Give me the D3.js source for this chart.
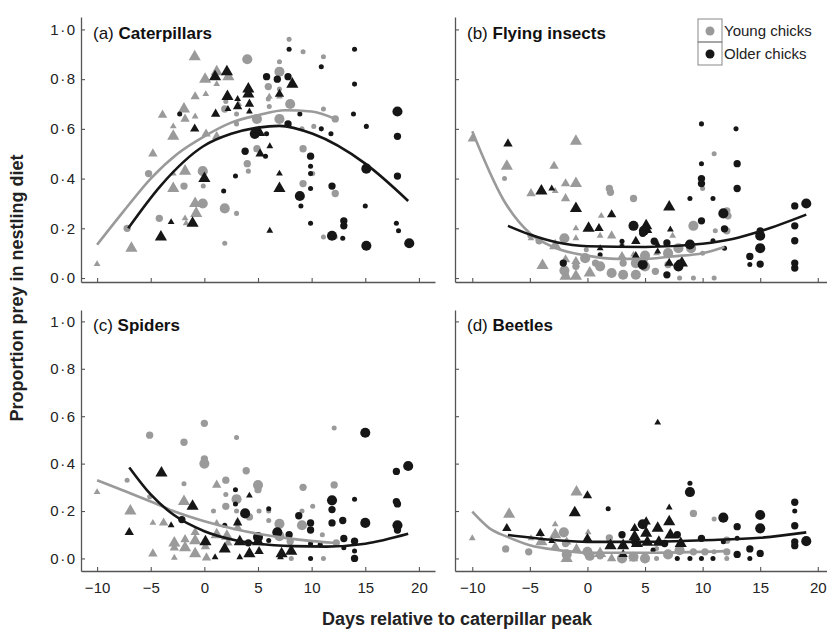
<!DOCTYPE html>
<html>
<head>
<meta charset="utf-8">
<script src="https://cdnjs.cloudflare.com/ajax/libs/d3/7.8.5/d3.min.js"></script>
<style>
body { margin: 0; background: #fff; }
text { font-family: "Liberation Sans", Arial, Helvetica, sans-serif; }
</style>
</head>
<body>
<div id="chart"></div>
<script>
// points: [day, proportion, shape+size]  (c = circle, t = triangle, 1..3 = size)
var catYoung = [
  [-10,0.056,"t1"],[-6.8,0.12,"t3"],[-4.8,0.50,"t2"],[-3.9,0.656,"t2"],[-2.9,0.61,"t1"],[-2.9,0.57,"t3"],
  [-2.9,0.42,"t1"],[-2.9,0.36,"t3"],[-1.9,0.68,"t3"],[-1.8,0.64,"t2"],[-1.8,0.43,"t3"],[-1.8,0.24,"t1"],
  [-1.7,0.22,"t1"],[-0.9,0.89,"t3"],[-0.86,0.73,"t2"],[-0.86,0.65,"t1"],[-0.86,0.30,"t3"],[-0.76,0.26,"t3"],
  [0.07,0.80,"t3"],[0.13,0.74,"t1"],[0.16,0.58,"t2"],[1.15,0.83,"t3"],[1.15,0.78,"t1"],[1.15,0.57,"t2"],
  [2.24,0.81,"t3"],[3.2,0.70,"t1"],[6.05,0.73,"t1"],[7.0,0.73,"t1"],
  [-7.2,0.20,"c2"],[-5.2,0.42,"c2"],[-4.2,0.24,"c2"],[-1.9,0.37,"c2"],[-0.15,0.43,"c3"],[-0.1,0.37,"c1"],
  [-0.15,0.30,"c3"],[1.9,0.28,"c3"],[1.9,0.14,"c1"],[3.0,0.26,"c1"],[1.9,0.68,"c2"],[2.0,0.71,"c1"],
  [3.0,0.66,"c1"],[3.0,0.62,"c1"],[4.0,0.88,"c3"],[4.0,0.46,"c2"],[4.1,0.43,"c1"],[4.9,0.64,"c3"],
  [4.9,0.52,"c2"],[5.96,0.77,"c2"],[5.96,0.72,"c1"],[6.05,0.69,"c1"],[7.0,0.83,"c3"],[7.0,0.87,"c1"],
  [7.0,0.76,"c1"],[7.0,0.64,"c3"],[7.9,0.96,"c1"],[8.0,0.70,"c3"],[9.2,0.91,"c1"],[9.1,0.60,"c1"],
  [9.2,0.52,"c2"],[9.2,0.38,"c2"],[10.1,0.42,"c1"],[10.2,0.61,"c1"],[11.1,0.89,"c1"],[11.1,0.68,"c1"],
  [11.1,0.165,"c1"],[12.2,0.34,"c2"],[12.2,0.165,"c1"],[12.2,0.64,"c2"]
];
var catOld = [
  [-2.3,0.66,"c1"],[1.8,0.35,"c1"],[2.9,0.41,"c1"],[3.8,0.51,"c2"],[4.7,0.58,"c3"],[5.8,0.81,"c2"],
  [5.8,0.58,"c1"],[5.7,0.49,"c1"],[6.8,0.80,"c2"],[7.9,0.92,"c1"],[7.8,0.81,"c2"],[7.8,0.62,"c2"],
  [8.9,0.66,"c1"],[8.9,0.33,"c3"],[9.0,0.29,"c1"],[9.9,0.49,"c2"],[9.9,0.45,"c1"],[9.9,0.42,"c1"],
  [9.9,0.36,"c1"],[9.9,0.22,"c1"],[10.9,0.85,"c1"],[10.9,0.60,"c1"],[11.8,0.58,"c1"],[11.9,0.37,"c2"],
  [11.9,0.17,"c3"],[12.9,0.16,"c1"],[13.0,0.23,"c2"],[13.0,0.21,"c2"],[14.0,0.92,"c1"],[14.0,0.78,"c1"],
  [13.9,0.66,"c1"],[15.1,0.61,"c1"],[15.1,0.44,"c3"],[15.0,0.29,"c1"],[15.1,0.13,"c3"],[18.0,0.67,"c3"],
  [18.0,0.57,"c2"],[18.0,0.41,"c2"],[17.9,0.22,"c1"],[18.1,0.19,"c1"],[19.1,0.14,"c3"],
  [-4.05,0.165,"t3"],[-3.1,0.225,"t1"],[-1.1,0.22,"t3"],[-0.9,0.60,"t2"],[0.0,0.40,"t3"],[1.0,0.81,"t3"],
  [2.1,0.83,"t3"],[1.05,0.66,"t2"],[2.15,0.73,"t3"],[2.2,0.68,"t1"],[3.1,0.72,"t1"],[3.1,0.69,"t2"],
  [4.1,0.76,"t3"],[4.1,0.74,"t3"],[4.2,0.70,"t2"],[4.2,0.67,"t1"],[5.1,0.585,"t3"],[5.2,0.50,"t2"],
  [6.1,0.53,"t1"],[6.1,0.19,"t1"],[7.0,0.42,"t1"],[7.0,0.36,"t3"],[7.0,0.74,"t2"],[8.2,0.78,"t3"]
];
var flyYoung = [
  [-10,0.56,"t2"],[-7.0,0.45,"t3"],[-4.9,0.34,"t2"],[-2.9,0.45,"t2"],[-2.8,0.35,"t1"],[-1.9,0.38,"t2"],
  [-1.9,0.32,"t2"],[-1.0,0.55,"t3"],[-1.0,0.38,"t3"],[-1.0,0.20,"t1"],[-1.0,0.16,"t1"],[-1.0,0.067,"t2"],
  [-1.0,0.007,"t3"],[-1.9,0.007,"t3"],[-1.9,0.074,"t2"],[-2.8,0.13,"t3"],[-3.9,0.05,"t3"],[-4.9,0.16,"t1"],
  [1.2,0.25,"t1"],[1.1,0.17,"t1"],[0.2,0.02,"t3"],[2.1,0.17,"t2"],[3.0,0.087,"t2"],[4.0,0.094,"t1"],
  [5.0,0.074,"t1"],[6.0,0.10,"t1"],[7.4,0.17,"t1"],
  [-7.2,0.40,"c1"],[-5.0,0.17,"c1"],[-4.2,0.15,"c2"],[-2.0,0.16,"c3"],[-2.0,0.03,"c3"],[-1.9,0.01,"c2"],
  [-1.0,0.047,"c2"],[-0.2,0.08,"c3"],[-0.1,0.114,"c1"],[0.7,0.06,"c2"],[1.1,0.047,"c3"],[1.9,0.36,"c2"],
  [2.0,0.345,"c2"],[2.1,0.02,"c3"],[3.0,0.134,"c1"],[3.1,0.06,"c2"],[3.1,0.013,"c3"],[4.0,0.32,"c2"],
  [4.2,0.06,"c3"],[4.2,0.013,"c3"],[5.0,0.09,"c3"],[5.0,0.047,"c3"],[5.9,0.027,"c2"],[6.0,0.144,"c1"],
  [7.0,0.10,"c3"],[7.0,0.054,"c2"],[7.9,0.12,"c3"],[8.0,0.0,"c1"],[9.0,0.12,"c3"],[9.2,0.0,"c1"],
  [9.2,0.21,"c3"],[10.0,0.36,"c1"],[10.0,0.10,"c1"],[11.0,0.0,"c1"],[11.0,0.50,"c1"],[11.1,0.19,"c1"],
  [12.1,0.27,"c2"],[12.2,0.25,"c2"],[12.1,0.19,"c2"]
];
var flyOld = [
  [-6.9,0.54,"t2"],[-4.0,0.35,"t3"],[-3.1,0.36,"t1"],[-1.0,0.28,"t3"],[0.1,0.20,"t3"],[1.0,0.20,"t2"],
  [2.1,0.255,"t2"],[1.1,0.12,"t1"],[3.0,0.13,"t1"],[4.2,0.148,"t2"],[4.2,0.087,"t2"],[5.1,0.21,"t3"],
  [5.1,0.195,"t3"],[6.1,0.134,"t1"],[6.1,0.107,"t1"],[7.1,0.286,"t3"],[7.2,0.195,"t1"],[7.1,0.06,"t2"],
  [8.2,0.06,"t3"],
  [-2.1,0.06,"c2"],[1.1,0.094,"c1"],[3.0,0.148,"c1"],[4.0,0.21,"c3"],[4.9,0.19,"c3"],[4.8,0.18,"c2"],
  [4.8,0.054,"c3"],[5.8,0.148,"c2"],[6.9,0.141,"c2"],[6.9,0.013,"c2"],[7.9,0.047,"c3"],[8.0,0.06,"c2"],
  [8.9,0.32,"c1"],[8.9,0.135,"c3"],[9.9,0.62,"c1"],[9.9,0.46,"c1"],[9.9,0.40,"c2"],[9.9,0.38,"c2"],
  [9.9,0.23,"c2"],[10.9,0.32,"c1"],[10.9,0.15,"c1"],[11.8,0.26,"c3"],[11.9,0.198,"c2"],[11.9,0.12,"c1"],
  [12.9,0.60,"c1"],[13.0,0.46,"c2"],[13.0,0.36,"c2"],[14.1,0.087,"c2"],[14.1,0.054,"c1"],[15.0,0.19,"c2"],
  [15.0,0.17,"c3"],[15.0,0.12,"c3"],[15.0,0.056,"c2"],[18.0,0.29,"c2"],[18.0,0.21,"c2"],[18.0,0.15,"c2"],
  [18.0,0.06,"c2"],[18.0,0.04,"c2"],[19.0,0.30,"c3"]
];
var spiYoung = [
  [-7.2,0.33,"c1"],[-5.1,0.52,"c2"],[-5.1,0.26,"c1"],[-1.9,0.49,"c2"],[-1.9,0.315,"c1"],[0,0.57,"c2"],
  [0,0.42,"c2"],[0,0.40,"c3"],[0.85,0.20,"c1"],[2.0,0.33,"c2"],[2.0,0.27,"c1"],[2.0,0.22,"c2"],
  [3.0,0.51,"c1"],[3.0,0.25,"c3"],[3.0,0.20,"c1"],[3.9,0.37,"c2"],[4.2,0.175,"c2"],[5.0,0.31,"c3"],
  [5.0,0.29,"c2"],[5.1,0.20,"c1"],[6.0,0.20,"c1"],[6.0,0.16,"c1"],[7.0,0.146,"c3"],[7.0,0.094,"c3"],
  [8.0,0.073,"c2"],[8.1,0.0,"c1"],[9.2,0.30,"c2"],[9.1,0.14,"c3"],[9.1,0.20,"c1"],[10.1,0.22,"c1"],
  [11.0,0.10,"c1"],[11.1,0.0,"c1"],[12.1,0.55,"c1"],[12.1,0.31,"c2"],[12.3,0.066,"c2"],
  [-10,0.28,"t1"],[-6.9,0.20,"t3"],[-4.8,0.15,"t1"],[-4.8,0.02,"t2"],[-3.8,0.15,"t2"],[-2.8,0.065,"t3"],
  [-2.8,0.045,"t2"],[-2.8,0.003,"t1"],[-1.9,0.24,"t3"],[-1.8,0.08,"t2"],[-1.8,0.045,"t3"],[-0.86,0.11,"t2"],
  [-0.86,0.075,"t3"],[-0.86,0.02,"t3"],[0.1,0.05,"t2"],[0.2,0.003,"t2"],[1.15,0.31,"t2"],[1.15,0.15,"t1"],
  [1.15,0.10,"t3"],[2.1,0.094,"t3"],[2.2,0.066,"t2"],[3.1,0.16,"t1"],[3.1,0.13,"t2"]
];
var spiOld = [
  [-7,0.11,"t2"],[-4.0,0.36,"t3"],[-3.1,0.14,"t1"],[-1.1,0.22,"t3"],[0.1,0.07,"t3"],[1.0,0.005,"t1"],
  [1.9,0.04,"t3"],[3.3,0.07,"t3"],[3.3,0.005,"t1"],[4.2,0.265,"t1"],[4.2,0.02,"t3"],[5.0,0.07,"t3"],
  [5.1,0.03,"t2"],[7.1,0.005,"t1"],[7.2,0.02,"t3"],[8.1,0.03,"t3"],[3.1,0.15,"t2"],
  [-2.1,0.164,"c2"],[1.9,0.14,"c1"],[2.9,0.29,"c1"],[2.9,0.23,"c1"],[3.8,0.19,"c3"],[4.1,0.066,"c2"],
  [5.0,0.09,"c3"],[6.0,0.21,"c1"],[6.0,0.076,"c1"],[6.8,0.11,"c3"],[7.9,0.10,"c2"],[8.8,0.18,"c2"],
  [9.9,0.15,"c2"],[9.9,0.12,"c2"],[9.9,0.062,"c1"],[9.9,0.0,"c1"],[10.8,0.059,"c1"],[11.9,0.245,"c3"],
  [11.9,0.206,"c2"],[11.9,0.15,"c2"],[12.9,0.16,"c2"],[13.0,0.084,"c2"],[13.0,0.045,"c1"],[14.0,0.25,"c1"],
  [14.0,0.073,"c2"],[14.0,0.031,"c1"],[14.0,0.0,"c2"],[15,0.53,"c3"],[15,0.15,"c3"],[17.9,0.367,"c2"],
  [17.9,0.24,"c2"],[18.0,0.23,"c2"],[18.0,0.14,"c3"],[18.0,0.12,"c2"],[19,0.39,"c3"]
];
var beeYoung = [
  [-10,0.085,"t1"],[-6.8,0.186,"t3"],[-4.9,0.085,"t1"],[-4,0.07,"t3"],[-2.8,0.144,"t1"],[-2.8,0.10,"t3"],
  [-2.8,0.05,"t2"],[-1.8,0.07,"t2"],[-1.8,0.0,"t3"],[-0.95,0.28,"t3"],[-0.95,0.19,"t1"],[-0.95,0.042,"t2"],
  [0.06,0.11,"t1"],[0.06,0.028,"t2"],[1.1,0.021,"t3"],[2.1,0.0,"t2"],[3.0,0.007,"t2"],[4.0,0.0,"t2"],
  [-7.1,0.04,"c2"],[-5.1,0.028,"c2"],[-2.05,0.11,"c3"],[-1.9,0.063,"c2"],[-1.8,0.017,"c3"],[0,0.028,"c3"],
  [0.2,0.011,"c3"],[1.1,0.011,"c2"],[1.9,0.087,"c2"],[3.0,0.0,"c3"],[4.0,0.007,"c3"],[5.0,0.0,"c3"],
  [6.0,0.0,"c1"],[6.0,0.042,"c1"],[7.0,0.017,"c3"],[8.0,0.035,"c3"],[9.2,0.19,"c2"],[9.2,0.028,"c2"],
  [10.2,0.028,"c2"],[11.0,0.166,"c1"],[11.0,0.028,"c1"],[12.1,0.077,"c2"],[12.1,0.028,"c2"],[12.1,0.0,"c1"]
];
var beeOld = [
  [-7,0.127,"t2"],[-4.1,0.106,"t2"],[-3.1,0.073,"t1"],[-1.1,0.193,"t3"],[0,0.265,"t2"],[0,0.085,"t2"],
  [2,0.054,"t3"],[3.1,0.054,"t3"],[3.1,0.017,"t2"],[4.1,0.127,"t2"],[4.1,0.092,"t3"],[4.3,0.063,"t3"],
  [5.1,0.155,"t2"],[5.1,0.106,"t3"],[5.2,0.068,"t3"],[6.1,0.573,"t1"],[6.1,0.127,"t3"],[6.2,0.068,"t3"],
  [7.1,0.215,"t1"],[7.1,0.155,"t3"],[7.2,0.099,"t3"],[8.1,0.063,"t3"],
  [1.8,0.21,"c1"],[3.0,0.10,"c2"],[4.1,0.07,"c2"],[4.8,0.144,"c3"],[5.7,0.035,"c1"],[6.7,0.063,"c2"],
  [7.8,0.10,"c2"],[7.8,0.0,"c1"],[8.9,0.317,"c1"],[8.9,0.28,"c3"],[8.9,0.0,"c1"],[9.9,0.085,"c2"],
  [9.9,0.0,"c1"],[10.9,0.0,"c1"],[11.8,0.172,"c3"],[11.8,0.07,"c1"],[13.0,0.134,"c2"],[13.0,0.085,"c1"],
  [13.0,0.017,"c2"],[14.1,0.04,"c2"],[14.1,0.0,"c1"],[15,0.183,"c3"],[15,0.127,"c3"],[15,0.021,"c2"],
  [18,0.237,"c2"],[18,0.2,"c1"],[18,0.138,"c2"],[18,0.07,"c2"],[18,0.054,"c2"],[19,0.073,"c3"]
];

// fitted lines
var catYoungFit = [[-10,0.134],[-7.5,0.27],[-5,0.40],[-2.5,0.50],[0,0.57],[2.5,0.625],[5,0.655],[7.5,0.675],[10,0.67],[12.2,0.64]];
var catOldFit = [[-7.1,0.20],[-4.1,0.37],[-0.1,0.53],[2.5,0.58],[5,0.605],[7,0.612],[10.1,0.58],[15,0.46],[19,0.31]];
var flyYoungFit = [[-10,0.59],[-7.3,0.315],[-5,0.18],[-2.7,0.12],[0,0.09],[2.5,0.077],[5,0.077],[7.4,0.087],[10,0.10],[11.9,0.125]];
var flyOldFit = [[-6.9,0.21],[-5,0.175],[-2.7,0.144],[0,0.128],[5,0.125],[10,0.138],[12.6,0.157],[15,0.188],[19,0.255]];
var spiYoungFit = [[-10,0.33],[-7.2,0.28],[-5,0.24],[-2.9,0.20],[0,0.157],[3,0.122],[5,0.104],[7,0.09],[10.1,0.073],[12,0.066]];
var spiOldFit = [[-7,0.384],[-5,0.27],[-2.9,0.185],[0,0.115],[3,0.076],[5,0.062],[8.3,0.052],[11.4,0.05],[15,0.062],[19,0.104]];
var beeYoungFit = [[-10,0.197],[-8.5,0.127],[-7,0.092],[-5,0.056],[-2.5,0.035],[0,0.024],[5,0.024],[12,0.031]];
var beeOldFit = [[-6.9,0.099],[-2.7,0.077],[0,0.07],[5,0.07],[10,0.077],[15,0.087],[19,0.11]];

var xTicks = [-10, -5, 0, 5, 10, 15, 20];
var yTicks = [0, 0.2, 0.4, 0.6, 0.8, 1.0];
var groups = ["Young chicks", "Older chicks"];

var grey = "#9a9a9a", black = "#161616", axisColor = "#555";

var svg = d3.select("#chart")
    .append("svg")
    .attr("width", 827)
    .attr("height", 630);

var cols = [{domain: [-11.5, 21.5], range: [81, 435]},
            {domain: [-11.5, 20.8], range: [455, 827]}];
var rows = [{domain: [-0.016, 1.05], range: [282, 17]},
            {domain: [-0.053, 1.048], range: [571, 310]}];

var panels = [
    {tag: "(a)", name: "Caterpillars", col: 0, row: 0, young: catYoung, old: catOld, youngFit: catYoungFit, oldFit: catOldFit},
    {tag: "(b)", name: "Flying insects", col: 1, row: 0, young: flyYoung, old: flyOld, youngFit: flyYoungFit, oldFit: flyOldFit},
    {tag: "(c)", name: "Spiders", col: 0, row: 1, young: spiYoung, old: spiOld, youngFit: spiYoungFit, oldFit: spiOldFit},
    {tag: "(d)", name: "Beetles", col: 1, row: 1, young: beeYoung, old: beeOld, youngFit: beeYoungFit, oldFit: beeOldFit}
];

var symbolSize = {c1: 20, c2: 42, c3: 80, t1: 20, t2: 38, t3: 64};
function symbolPath(code) {
    var type = code[0] === "t" ? d3.symbolTriangle : d3.symbolCircle;
    return d3.symbol().type(type).size(symbolSize[code])();
}

var xFormat = function (d) { return d < 0 ? "\u2212" + Math.abs(d) : d; };
var yFormat = function (d) { return d3.format(".1f")(d).replace(".", "\u00b7"); };

panels.forEach(function (p) {
    var x = d3.scaleLinear().domain(cols[p.col].domain).range(cols[p.col].range);
    var y = d3.scaleLinear().domain(rows[p.row].domain).range(rows[p.row].range);
    var g = svg.append("g");

    var xAxis = d3.axisBottom(x).tickValues(xTicks).tickSizeInner(-4).tickSizeOuter(0).tickPadding(11)
        .tickFormat(p.row === 1 ? xFormat : "");
    var yAxis = d3.axisLeft(y).tickValues(yTicks).tickSizeInner(-4).tickSizeOuter(0).tickPadding(6)
        .tickFormat(p.col === 0 ? yFormat : "");

    var gx = g.append("g")
        .attr("transform", "translate(0," + y.range()[0] + ")")
        .call(xAxis);
    var gy = g.append("g")
        .attr("transform", "translate(" + x.range()[0] + ",0)")
        .call(yAxis);

    [gx, gy].forEach(function (a) {
        a.select(".domain").attr("stroke", axisColor).attr("stroke-width", 1.3);
        a.selectAll(".tick line").attr("stroke", axisColor).attr("stroke-width", 1.1);
        a.selectAll(".tick text").attr("fill", "#222").style("font-size", "15px")
            .style("font-family", '"Liberation Sans", Arial, sans-serif');
    });
    gy.selectAll(".tick text").style("letter-spacing", "1.5px").attr("dx", "1.5px");

    // points
    g.append("g").selectAll("path")
        .data(p.young)
        .join("path")
        .attr("transform", function (d) { return "translate(" + x(d[0]) + "," + y(d[1]) + ")"; })
        .attr("d", function (d) { return symbolPath(d[2]); })
        .attr("fill", grey);

    g.append("g").selectAll("path")
        .data(p.old)
        .join("path")
        .attr("transform", function (d) { return "translate(" + x(d[0]) + "," + y(d[1]) + ")"; })
        .attr("d", function (d) { return symbolPath(d[2]); })
        .attr("fill", black);

    var line = d3.line()
        .curve(d3.curveMonotoneX)
        .x(function (d) { return x(d[0]); })
        .y(function (d) { return y(d[1]); });

    g.append("path").datum(p.youngFit)
        .attr("d", line).attr("fill", "none").attr("stroke", grey).attr("stroke-width", 2.6);
    g.append("path").datum(p.oldFit)
        .attr("d", line).attr("fill", "none").attr("stroke", black).attr("stroke-width", 2.6);

    // panel title
    var t = g.append("text")
        .attr("x", x.range()[0] + 12)
        .attr("y", y(1) + 10)
        .style("font-size", "17px")
        .attr("fill", "#111");
    t.append("tspan").text(p.tag + " ");
    t.append("tspan").attr("font-weight", "bold").text(p.name);
});

// legend (inside panel b)
var legend = svg.append("g").attr("transform", "translate(698,19)");
groups.forEach(function (name, i) {
    legend.append("rect")
        .attr("x", 0).attr("y", i * 23)
        .attr("width", 24).attr("height", 23)
        .attr("fill", "none").attr("stroke", "#888").attr("stroke-width", 1);
    legend.append("circle")
        .attr("cx", 12).attr("cy", i * 23 + 12)
        .attr("r", 4.5)
        .attr("fill", i === 0 ? grey : black);
    legend.append("text")
        .attr("x", 26).attr("y", i * 23 + 17)
        .style("font-size", "15px")
        .attr("fill", "#222")
        .text(name);
});

// axis titles
svg.append("text")
    .attr("transform", "translate(23,288) rotate(-90)")
    .attr("text-anchor", "middle")
    .attr("font-weight", "bold")
    .style("font-size", "18px")
    .attr("fill", "#222")
    .text("Proportion prey in nestling diet");

svg.append("text")
    .attr("x", 457)
    .attr("y", 625)
    .attr("text-anchor", "middle")
    .attr("font-weight", "bold")
    .style("font-size", "18px")
    .attr("fill", "#222")
    .text("Days relative to caterpillar peak");
</script>
</body>
</html>
